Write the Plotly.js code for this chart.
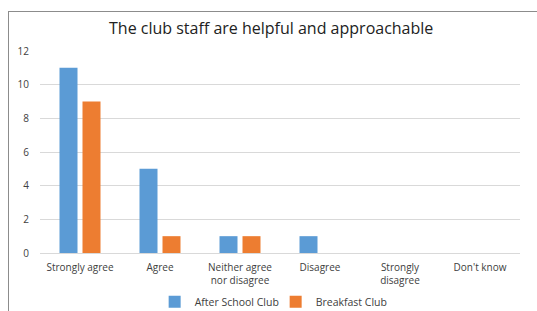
<!DOCTYPE html>
<html><head><meta charset="utf-8">
<script src="https://cdn.plot.ly/plotly-3.0.1.min.js"></script>
<style>
html,body{margin:0;padding:0;background:#fff;}
#frame{position:absolute;left:8px;top:11px;width:600px;height:400px;border-left:1px solid #8c8c8c;border-top:1px solid #8c8c8c;pointer-events:none;z-index:5;}
#chart{position:absolute;left:0;top:0;width:537px;height:311px;}
</style></head>
<body>
<div id="chart"></div>
<div id="frame"></div>
<script>
const categories = ["Strongly agree", "Agree", "Neither agree<br>nor disagree", "Disagree", "Strongly<br>disagree", "Don't know"];
const afterSchool = [11, 5, 1, 1, 0, 0];
const breakfast = [9, 1, 1, 0, 0, 0];
const yTicks = [0, 2, 4, 6, 8, 10, 12];

const font = "Open Sans, Liberation Sans, sans-serif";
const traces = [
  {type:"bar", name:"After School Club", x:categories, y:afterSchool, marker:{color:"#5B9BD5"}},
  {type:"bar", name:"Breakfast Club", x:categories, y:breakfast, marker:{color:"#ED7D31"}}
];
const layout = {
  width:537, height:311,
  margin:{l:40, r:17, t:51, b:58},
  paper_bgcolor:"#fff", plot_bgcolor:"#fff",
  barmode:"group", bargap:0.425, bargroupgap:0.217,
  title:{text:"The club staff are helpful and approachable", font:{family:font, size:16, color:"#222"}, x:0.505, xanchor:"center", y:0.91, yanchor:"middle"},
  font:{family:font, size:10, color:"#404040"},
  xaxis:{automargin:false, showgrid:false, showline:true, linecolor:"#d9d9d9", linewidth:1, ticks:"", tickfont:{size:10, color:"#404040"}, ticklabelstandoff:5, fixedrange:true},
  yaxis:{automargin:false, range:[0,12], tickvals:yTicks, showgrid:true, gridcolor:"#d9d9d9", gridwidth:1, zeroline:false, showline:false, ticks:"", tickfont:{size:10, color:"#404040"}, ticklabelstandoff:10},
  legend:{orientation:"h", x:0.288, xanchor:"left", xref:"container", yref:"container", y:0.03, yanchor:"middle", font:{size:10.5, color:"#404040"}, itemwidth:30, entrywidth:76, traceorder:"normal"},
  showlegend:true
};
Plotly.newPlot("chart", traces, layout, {displayModeBar:false, staticPlot:true});
</script>
</body></html>
